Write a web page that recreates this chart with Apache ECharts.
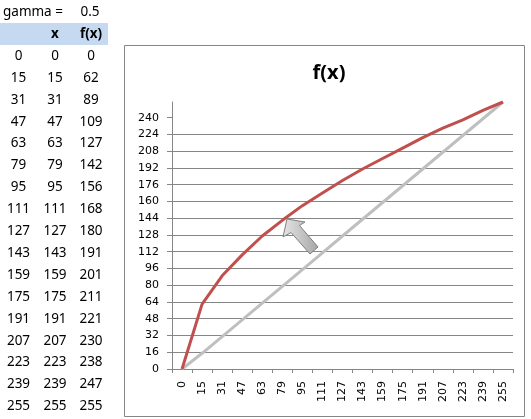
<!DOCTYPE html>
<html>
<head>
<meta charset="utf-8">
<script src="https://cdn.jsdelivr.net/npm/echarts@6/dist/echarts.min.js"></script>
<style>
  html, body { margin: 0; padding: 0; background: #fff; }
  #main { width: 531px; height: 419px; }
</style>
</head>
<body>
<div id="main"></div>
<script>
// data
const gamma = 0.5;
const categories = ["0", "15", "31", "47", "63", "79", "95", "111", "127", "143", "159", "175", "191", "207", "223", "239", "255"];
const xValues = [0, 15, 31, 47, 63, 79, 95, 111, 127, 143, 159, 175, 191, 207, 223, 239, 255];
const fxValues = [0, 62, 89, 109, 127, 142, 156, 168, 180, 191, 201, 211, 221, 230, 238, 247, 255];
const yTicks = [0, 16, 32, 48, 64, 80, 96, 112, 128, 144, 160, 176, 192, 208, 224, 240];

const chart = echarts.init(document.getElementById("main"));

const tableFont = '13.5px "Noto Sans", sans-serif';
const rowH = 21.9;
let tableGraphics = [
  { type: "rect", shape: { x: 0, y: 23, width: 108, height: 22 }, style: { fill: "#C5D9F1" }, silent: true },
  { type: "text", style: { text: "gamma =", x: 3, y: 12, font: tableFont, fill: "#000", textVerticalAlign: "middle" } },
  { type: "text", style: { text: String(gamma), x: 90, y: 12, font: tableFont, fill: "#000", textAlign: "center", textVerticalAlign: "middle" } },
  { type: "text", style: { text: "x", x: 55, y: 34, font: 'bold 13.5px "Noto Sans", sans-serif', fill: "#000", textAlign: "center", textVerticalAlign: "middle" } },
  { type: "text", style: { text: "f(x)", x: 91, y: 34, font: 'bold 13.5px "Noto Sans", sans-serif', fill: "#000", textAlign: "center", textVerticalAlign: "middle" } },
];
for (let i = 0; i < categories.length; i++) {
  const y = 56 + rowH * i;
  [[18.5, categories[i]], [55, String(xValues[i])], [91, String(fxValues[i])]].forEach(function (c) {
    tableGraphics.push({
      type: "text",
      style: { text: c[1], x: c[0], y: y, font: tableFont, fill: "#000", textAlign: "center", textVerticalAlign: "middle" },
    });
  });
}

let option = {
  backgroundColor: "#fff",
  animation: false,
  title: {
    text: "f(x)",
    left: 324,
    textAlign: "center",
    top: 58,
    textStyle: { fontFamily: "Noto Sans", fontWeight: "bold", fontSize: 20, color: "#000" },
  },
  grid: { left: 172, right: 18, top: 102, bottom: 50, containLabel: false },
  xAxis: {
    type: "category",
    data: categories,
    boundaryGap: true,
    axisLine: { lineStyle: { color: "#868686", width: 1 } },
    axisTick: { show: true, length: 4, lineStyle: { color: "#868686" } },
    axisLabel: {
      rotate: 90,
      margin: 12,
      interval: 0,
      fontFamily: "DejaVu Sans",
      fontSize: 11,
      color: "#000",
    },
    splitLine: { show: false },
  },
  yAxis: {
    type: "value",
    min: 0,
    max: 255,
    interval: 16,
    axisLine: { show: true, lineStyle: { color: "#868686", width: 1 } },
    axisTick: { show: true, length: 5, customValues: yTicks, lineStyle: { color: "#868686" } },
    axisLabel: {
      customValues: yTicks,
      margin: 13,
      fontFamily: "DejaVu Sans",
      fontSize: 11,
      color: "#000",
    },
    splitLine: { show: true, showMaxLine: false, lineStyle: { color: "#868686", width: 1 } },
  },
  series: [
    {
      name: "x",
      type: "line",
      data: xValues,
      symbol: "none",
      lineStyle: { color: "#BFBFBF", width: 3 },
      z: 2,
    },
    {
      name: "f(x)",
      type: "line",
      data: fxValues,
      symbol: "none",
      lineStyle: { color: "#C0504D", width: 3 },
      z: 3,
    },
  ],
  graphic: tableGraphics.concat([
    {
      type: "rect",
      shape: { x: 124.5, y: 45.5, width: 400, height: 371 },
      style: { fill: "none", stroke: "#868686", lineWidth: 1 },
      silent: true,
    },
    {
      // block arrow annotation
      type: "polygon",
      shape: {
        points: [[287, 219], [305, 222], [299.5, 225.5], [318, 247], [310, 254], [291, 232.5], [283, 237]],
      },
      style: {
        fill: new echarts.graphic.LinearGradient(0, 0, 1, 0, [
          { offset: 0, color: "#E6E6E6" },
          { offset: 1, color: "#A6A6A6" },
        ]),
        stroke: "#7F7F7F",
        lineWidth: 1,
      },
      z: 100,
    },
  ]),
};
chart.setOption(option, true);
</script>
</body>
</html>
